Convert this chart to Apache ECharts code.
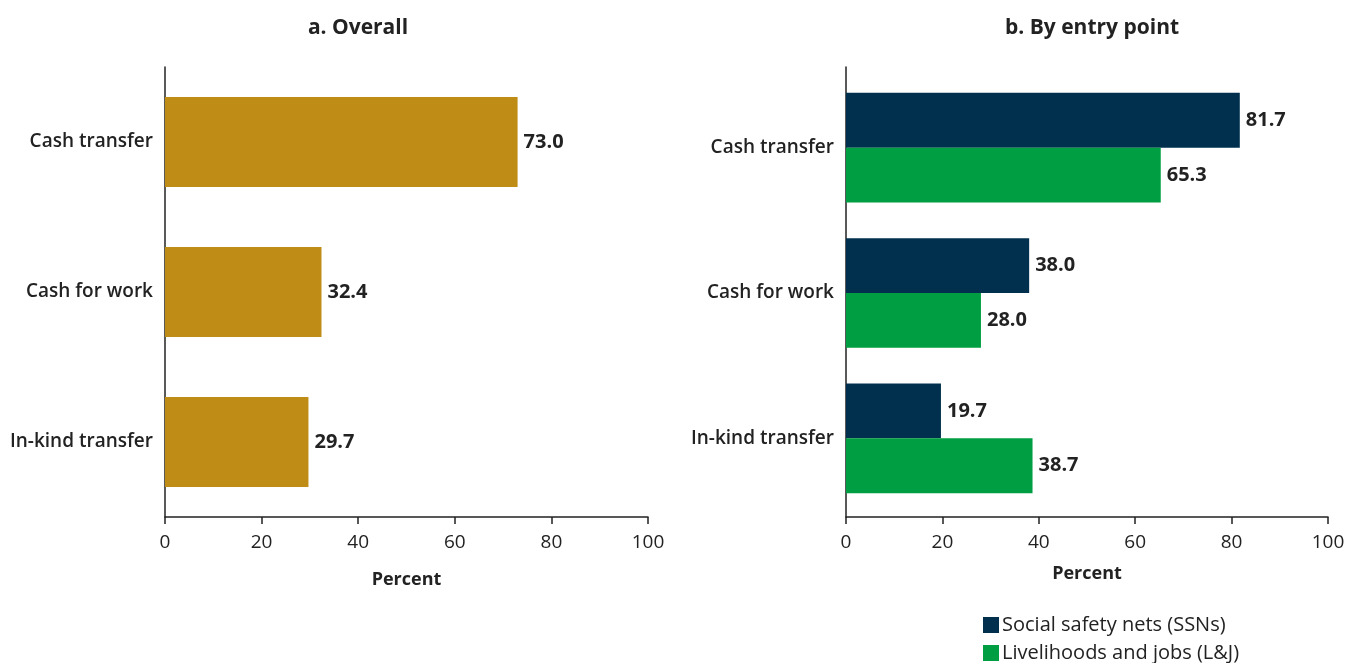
<!DOCTYPE html>
<html>
<head>
    <meta charset="utf-8">
    <title>Overall and by entry point</title>
    <script src="https://cdn.jsdelivr.net/npm/echarts@6/dist/echarts.min.js"></script>
    <style>
        body { margin: 0; background: #fff; }
        #chart_ { width: 1348px; height: 663px; }
    </style>
</head>
<body>
    <div id="chart_"></div>
    <script type="text/javascript">
        // 数据
        var categories = ['Cash transfer', 'Cash for work', 'In-kind transfer'];
        var overall = [73.0, 32.4, 29.7];
        var ssn = [81.7, 38.0, 19.7];
        var lj = [65.3, 28.0, 38.7];
        var xTicks = [0, 20, 40, 60, 80, 100];
        var seriesNames = ['Social safety nets (SSNs)', 'Livelihoods and jobs (L&J)'];

        var font = 'Open Sans';
        var ink = '#222222';

        function valueAxis(idx, offset) {
            return {
                type: 'value', gridIndex: idx,
                min: xTicks[0], max: xTicks[xTicks.length - 1], interval: xTicks[1] - xTicks[0],
                offset: offset,
                name: 'Percent', nameLocation: 'middle', nameGap: 54 - offset,
                nameTextStyle: { fontFamily: font, fontSize: 18, fontWeight: 'bold', color: ink },
                axisLine: { show: true, lineStyle: { color: ink, width: 1.5 } },
                axisTick: { show: true, length: 7, lineStyle: { color: ink, width: 1.5 } },
                axisLabel: { fontFamily: font, fontSize: 19, color: ink, margin: 16 },
                splitLine: { show: false }
            };
        }

        function catAxis(idx, lineShow) {
            return {
                type: 'category', gridIndex: idx, data: categories, inverse: true,
                axisLine: { show: lineShow, lineStyle: { color: ink, width: 1.5 } },
                axisTick: { show: false },
                axisLabel: { fontFamily: font, fontSize: 19, fontWeight: 600, color: ink, margin: 12 }
            };
        }

        function legendAt(name, top) {
            return {
                data: [name], left: 978, top: top,
                itemWidth: 16, itemHeight: 16, icon: 'rect',
                textStyle: { fontFamily: font, fontSize: 20, color: ink, padding: [0, 0, 0, -2] }
            };
        }

        var valLabel = {
            show: true, position: 'right', distance: 6,
            fontFamily: font, fontSize: 20, fontWeight: 'bold', color: ink,
            formatter: function (p) { return p.value.toFixed(1); }
        };

        var myChart = echarts.init(document.getElementById('chart_'));
        var option = {
            animation: false,
            title: [
                { text: 'a. Overall', left: 353, top: 13, textAlign: 'center',
                  textStyle: { fontFamily: font, fontSize: 21, fontWeight: 'bold', color: ink } },
                { text: 'b. By entry point', left: 1087, top: 13, textAlign: 'center',
                  textStyle: { fontFamily: font, fontSize: 21, fontWeight: 'bold', color: ink } }
            ],
            legend: [legendAt(seriesNames[0], 610), legendAt(seriesNames[1], 638)],
            grid: [
                { left: 165, top: 67, width: 483, height: 450 },
                { left: 846, top: 75, width: 482, height: 436 },
                { left: 846, top: 67, width: 482, height: 450 }
            ],
            xAxis: [
                valueAxis(0, 0),
                valueAxis(1, 6),
                { type: 'value', gridIndex: 2, min: 0, max: 100, show: false }
            ],
            yAxis: [
                catAxis(0, true),
                catAxis(1, false),
                { type: 'value', gridIndex: 2, min: 0, max: 1,
                  axisLine: { show: true, lineStyle: { color: ink, width: 1.5 } },
                  axisTick: { show: false }, axisLabel: { show: false }, splitLine: { show: false } }
            ],
            series: [
                { name: 'Overall', type: 'bar', xAxisIndex: 0, yAxisIndex: 0, data: overall,
                  barCategoryGap: '40%', itemStyle: { color: '#BF8C16' }, label: valLabel },
                { name: seriesNames[0], type: 'bar', xAxisIndex: 1, yAxisIndex: 1, data: ssn,
                  barGap: '0%', barCategoryGap: '24.5%', itemStyle: { color: '#00304E' }, label: valLabel },
                { name: seriesNames[1], type: 'bar', xAxisIndex: 1, yAxisIndex: 1, data: lj,
                  barGap: '0%', barCategoryGap: '24.5%', itemStyle: { color: '#009E42' }, label: valLabel }
            ]
        };
        myChart.setOption(option);
    </script>
</body>
</html>
